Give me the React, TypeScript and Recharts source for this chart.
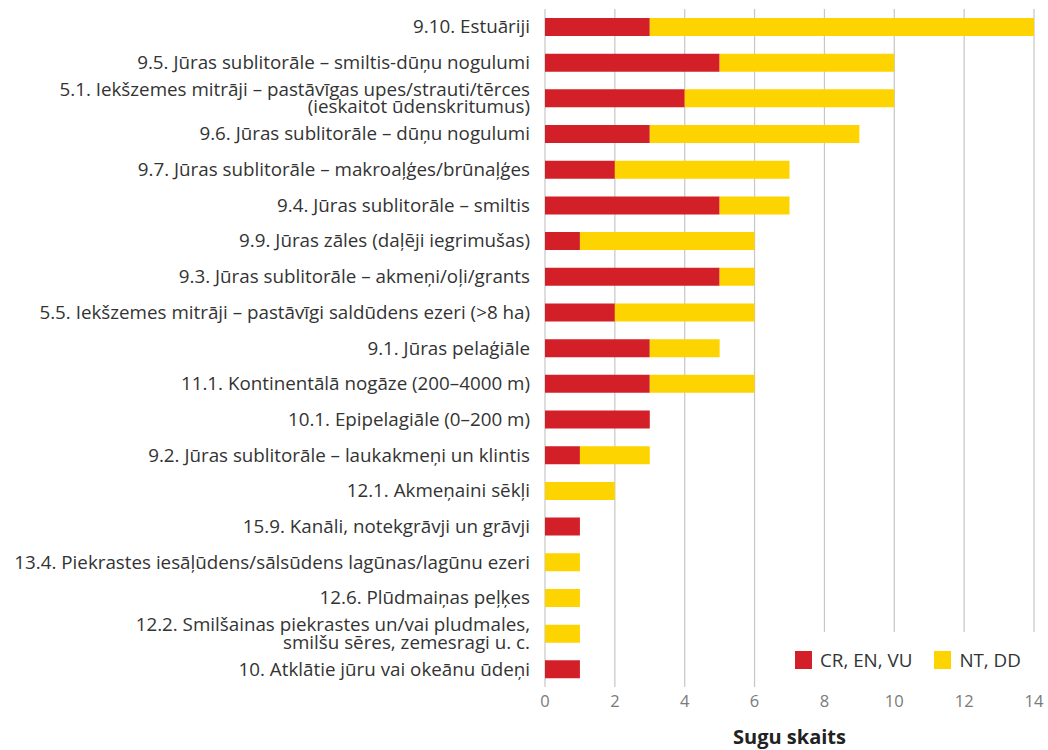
import { BarChart, Bar, XAxis, YAxis, CartesianGrid, Legend } from "recharts";

// habitat categories, top to bottom
const habitats = [
  "9.10. Estuāriji",
  "9.5. Jūras sublitorāle – smiltis-dūņu nogulumi",
  "5.1. Iekšzemes mitrāji – pastāvīgas upes/strauti/tērces\n(ieskaitot ūdenskritumus)",
  "9.6. Jūras sublitorāle – dūņu nogulumi",
  "9.7. Jūras sublitorāle – makroaļģes/brūnaļģes",
  "9.4. Jūras sublitorāle – smiltis",
  "9.9. Jūras zāles (daļēji iegrimušas)",
  "9.3. Jūras sublitorāle – akmeņi/oļi/grants",
  "5.5. Iekšzemes mitrāji – pastāvīgi saldūdens ezeri (>8 ha)",
  "9.1. Jūras pelaģiāle",
  "11.1. Kontinentālā nogāze (200–4000 m)",
  "10.1. Epipelagiāle (0–200 m)",
  "9.2. Jūras sublitorāle – laukakmeņi un klintis",
  "12.1. Akmeņaini sēkļi",
  "15.9. Kanāli, notekgrāvji un grāvji",
  "13.4. Piekrastes iesāļūdens/sālsūdens lagūnas/lagūnu ezeri",
  "12.6. Plūdmaiņas peļķes",
  "12.2. Smilšainas piekrastes un/vai pludmales,\nsmilšu sēres, zemesragi u. c.",
  "10. Atklātie jūru vai okeānu ūdeņi",
];

// CR, EN, VU
const threatened = [3, 5, 4, 3, 2, 5, 1, 5, 2, 3, 3, 3, 1, 0, 1, 0, 0, 0, 1];
// NT, DD
const nearThreatened = [11, 5, 6, 6, 5, 2, 5, 1, 4, 2, 3, 0, 2, 2, 0, 1, 1, 1, 0];

const xTicks = [0, 2, 4, 6, 8, 10, 12, 14];

const data = habitats.map((name, i) => ({
  name,
  threatened: threatened[i],
  nearThreatened: nearThreatened[i],
}));

const FONT = "'Open Sans', sans-serif";

function CategoryTick(props: any) {
  const { x, y, payload } = props;
  const lines = String(payload.value).split("\n");
  const lh = 17.5;
  const start = -((lines.length - 1) * lh) / 2;
  return (
    <text x={x} y={y} textAnchor="end" fill="#333" fontSize={18.8} fontFamily={FONT}>
      {lines.map((l, i) => (
        <tspan key={i} x={x} dy={i === 0 ? start + 6.5 : lh}>
          {l}
        </tspan>
      ))}
    </text>
  );
}

function renderLegend(props: any) {
  const { payload } = props;
  return (
    <div
      style={{
        background: "#fff",
        width: 260,
        height: 56,
        display: "flex",
        alignItems: "center",
        paddingLeft: 15,
        boxSizing: "border-box",
        fontFamily: FONT,
        fontSize: 18.8,
        color: "#333",
        whiteSpace: "nowrap",
      }}
    >
      {payload.map((entry: any, i: number) => (
        <div key={i} style={{ display: "flex", alignItems: "center", marginRight: 22, flexShrink: 0 }}>
          <span style={{ width: 17, height: 18, background: entry.color, display: "inline-block", marginRight: 8 }} />
          <span>{entry.value}</span>
        </div>
      ))}
    </div>
  );
}

export default function App() {
  return (
    <div style={{ position: "absolute", left: 0, top: 0, background: "#fff" }}>
      <BarChart
        width={1048}
        height={750}
        data={data}
        layout="vertical"
        margin={{ top: 9, right: 14, bottom: 23, left: 0 }}
        barSize={18}
      >
        <CartesianGrid horizontal={false} stroke="#c6c6c6" strokeWidth={1.2} />
        <XAxis
          type="number"
          domain={[0, 14]}
          ticks={xTicks}
          axisLine={false}
          tickLine={false}
          height={40}
          tick={{ fill: "#7a7a7a", fontSize: 16.5, fontFamily: FONT }}
          label={{
            value: "Sugu skaits",
            position: "bottom",
            offset: 3,
            style: { fill: "#222", fontSize: 20, fontWeight: 700, fontFamily: FONT },
          }}
        />
        <YAxis
          type="category"
          dataKey="name"
          width={545}
          axisLine={false}
          tickLine={false}
          tickMargin={9}
          interval={0}
          tick={<CategoryTick />}
        />
        <Legend
          align="center"
          verticalAlign="middle"
          content={renderLegend}
          wrapperStyle={{ left: 780, top: 632, width: 260, height: 56 }}
        />
        <Bar dataKey="threatened" name="CR, EN, VU" stackId="a" fill="#d21f28" isAnimationActive={false} />
        <Bar dataKey="nearThreatened" name="NT, DD" stackId="a" fill="#fdd400" isAnimationActive={false} />
      </BarChart>
    </div>
  );
}
